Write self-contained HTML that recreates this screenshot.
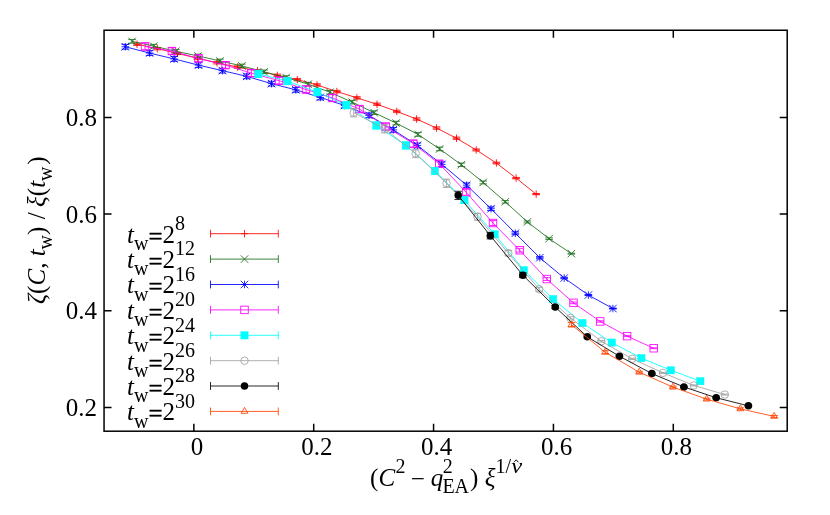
<!DOCTYPE html>
<html><head><meta charset="utf-8"><title>plot</title>
<style>
html,body{margin:0;padding:0;background:#fff;}
body{width:830px;height:515px;overflow:hidden;}
svg{display:block;will-change:transform;}
text{font-family:"Liberation Serif",serif;fill:#000;}
.t{font-size:25px;}
.s{font-size:20px;}
.i{font-style:italic;}
</style></head><body>
<svg width="830" height="515" viewBox="0 0 830 515">
<rect width="830" height="515" fill="#fff"/>
<g id="red"><path d="M137,44.25L157.3,48.65L177.3,53.45L197.4,58.15L217,62.75L237.6,67.05L257.5,70.75L277.3,75.35L297.3,79.65L317,84.95L336.9,91.55L356.9,97.85L377,104.25L396.8,111.45L416.6,119.05L436.5,128.05L456.5,138.25L476.2,149.95L496.4,163.05L516.1,178.15L536.2,194.15" stroke="#ff0000" stroke-width="0.85" fill="none"/><path d="M137,43.05V45.45M133.25,43.05h7.5M133.25,45.45h7.5" stroke="#ff0000" stroke-width="0.85" fill="none"/><path d="M133.25,44.25h7.5M137,40.5v7.5" stroke="#ff0000" stroke-width="0.85" fill="none"/><path d="M157.3,47.45V49.85M153.55,47.45h7.5M153.55,49.85h7.5" stroke="#ff0000" stroke-width="0.85" fill="none"/><path d="M153.55,48.65h7.5M157.3,44.9v7.5" stroke="#ff0000" stroke-width="0.85" fill="none"/><path d="M177.3,52.25V54.65M173.55,52.25h7.5M173.55,54.65h7.5" stroke="#ff0000" stroke-width="0.85" fill="none"/><path d="M173.55,53.45h7.5M177.3,49.7v7.5" stroke="#ff0000" stroke-width="0.85" fill="none"/><path d="M197.4,56.95V59.35M193.65,56.95h7.5M193.65,59.35h7.5" stroke="#ff0000" stroke-width="0.85" fill="none"/><path d="M193.65,58.15h7.5M197.4,54.4v7.5" stroke="#ff0000" stroke-width="0.85" fill="none"/><path d="M217,61.55V63.95M213.25,61.55h7.5M213.25,63.95h7.5" stroke="#ff0000" stroke-width="0.85" fill="none"/><path d="M213.25,62.75h7.5M217,59.0v7.5" stroke="#ff0000" stroke-width="0.85" fill="none"/><path d="M237.6,65.85V68.25M233.85,65.85h7.5M233.85,68.25h7.5" stroke="#ff0000" stroke-width="0.85" fill="none"/><path d="M233.85,67.05h7.5M237.6,63.3v7.5" stroke="#ff0000" stroke-width="0.85" fill="none"/><path d="M257.5,69.55V71.95M253.75,69.55h7.5M253.75,71.95h7.5" stroke="#ff0000" stroke-width="0.85" fill="none"/><path d="M253.75,70.75h7.5M257.5,67.0v7.5" stroke="#ff0000" stroke-width="0.85" fill="none"/><path d="M277.3,74.15V76.55M273.55,74.15h7.5M273.55,76.55h7.5" stroke="#ff0000" stroke-width="0.85" fill="none"/><path d="M273.55,75.35h7.5M277.3,71.6v7.5" stroke="#ff0000" stroke-width="0.85" fill="none"/><path d="M297.3,78.45V80.85M293.55,78.45h7.5M293.55,80.85h7.5" stroke="#ff0000" stroke-width="0.85" fill="none"/><path d="M293.55,79.65h7.5M297.3,75.9v7.5" stroke="#ff0000" stroke-width="0.85" fill="none"/><path d="M317,83.75V86.15M313.25,83.75h7.5M313.25,86.15h7.5" stroke="#ff0000" stroke-width="0.85" fill="none"/><path d="M313.25,84.95h7.5M317,81.2v7.5" stroke="#ff0000" stroke-width="0.85" fill="none"/><path d="M336.9,90.35V92.75M333.15,90.35h7.5M333.15,92.75h7.5" stroke="#ff0000" stroke-width="0.85" fill="none"/><path d="M333.15,91.55h7.5M336.9,87.8v7.5" stroke="#ff0000" stroke-width="0.85" fill="none"/><path d="M356.9,96.65V99.05M353.15,96.65h7.5M353.15,99.05h7.5" stroke="#ff0000" stroke-width="0.85" fill="none"/><path d="M353.15,97.85h7.5M356.9,94.1v7.5" stroke="#ff0000" stroke-width="0.85" fill="none"/><path d="M377,103.05V105.45M373.25,103.05h7.5M373.25,105.45h7.5" stroke="#ff0000" stroke-width="0.85" fill="none"/><path d="M373.25,104.25h7.5M377,100.5v7.5" stroke="#ff0000" stroke-width="0.85" fill="none"/><path d="M396.8,110.25V112.65M393.05,110.25h7.5M393.05,112.65h7.5" stroke="#ff0000" stroke-width="0.85" fill="none"/><path d="M393.05,111.45h7.5M396.8,107.7v7.5" stroke="#ff0000" stroke-width="0.85" fill="none"/><path d="M416.6,117.85V120.25M412.85,117.85h7.5M412.85,120.25h7.5" stroke="#ff0000" stroke-width="0.85" fill="none"/><path d="M412.85,119.05h7.5M416.6,115.3v7.5" stroke="#ff0000" stroke-width="0.85" fill="none"/><path d="M436.5,126.85V129.25M432.75,126.85h7.5M432.75,129.25h7.5" stroke="#ff0000" stroke-width="0.85" fill="none"/><path d="M432.75,128.05h7.5M436.5,124.30000000000001v7.5" stroke="#ff0000" stroke-width="0.85" fill="none"/><path d="M456.5,137.10V139.40M452.75,137.10h7.5M452.75,139.40h7.5" stroke="#ff0000" stroke-width="0.85" fill="none"/><path d="M452.75,138.25h7.5M456.5,134.5v7.5" stroke="#ff0000" stroke-width="0.85" fill="none"/><path d="M476.2,148.94V150.96M472.45,148.94h7.5M472.45,150.96h7.5" stroke="#ff0000" stroke-width="0.85" fill="none"/><path d="M472.45,149.95h7.5M476.2,146.2v7.5" stroke="#ff0000" stroke-width="0.85" fill="none"/><path d="M496.4,162.18V163.92M492.65,162.18h7.5M492.65,163.92h7.5" stroke="#ff0000" stroke-width="0.85" fill="none"/><path d="M492.65,163.05h7.5M496.4,159.3v7.5" stroke="#ff0000" stroke-width="0.85" fill="none"/><path d="M516.1,177.43V178.87M512.35,177.43h7.5M512.35,178.87h7.5" stroke="#ff0000" stroke-width="0.85" fill="none"/><path d="M512.35,178.15h7.5M516.1,174.4v7.5" stroke="#ff0000" stroke-width="0.85" fill="none"/><path d="M536.2,193.57V194.73M532.45,193.57h7.5M532.45,194.73h7.5" stroke="#ff0000" stroke-width="0.85" fill="none"/><path d="M532.45,194.15h7.5M536.2,190.4v7.5" stroke="#ff0000" stroke-width="0.85" fill="none"/></g>
<g id="green"><path d="M132.1,41.35L153.7,46.15L175.8,51.25L198.0,55.95L220.0,60.95L241.9,65.95L264.2,71.85L286.2,77.55L308.2,84.15L329.9,92.25L352.2,102.15L374.1,112.65L396.1,123.05L418,134.45L439.6,148.95L461.4,164.75L483.2,182.45L505.3,201.85L527.4,221.95L549.1,238.65L571.4,253.65" stroke="#1a6e1a" stroke-width="0.85" fill="none"/><path d="M132.1,39.55V43.15M128.35,39.55h7.5M128.35,43.15h7.5" stroke="#1a6e1a" stroke-width="0.85" fill="none"/><path d="M128.35,37.6l7.5,7.5M128.35,45.1l7.5,-7.5" stroke="#1a6e1a" stroke-width="0.85" fill="none"/><path d="M153.7,44.35V47.95M149.95,44.35h7.5M149.95,47.95h7.5" stroke="#1a6e1a" stroke-width="0.85" fill="none"/><path d="M149.95,42.4l7.5,7.5M149.95,49.9l7.5,-7.5" stroke="#1a6e1a" stroke-width="0.85" fill="none"/><path d="M175.8,49.45V53.05M172.05,49.45h7.5M172.05,53.05h7.5" stroke="#1a6e1a" stroke-width="0.85" fill="none"/><path d="M172.05,47.5l7.5,7.5M172.05,55.0l7.5,-7.5" stroke="#1a6e1a" stroke-width="0.85" fill="none"/><path d="M198.0,54.15V57.75M194.25,54.15h7.5M194.25,57.75h7.5" stroke="#1a6e1a" stroke-width="0.85" fill="none"/><path d="M194.25,52.2l7.5,7.5M194.25,59.7l7.5,-7.5" stroke="#1a6e1a" stroke-width="0.85" fill="none"/><path d="M220.0,59.15V62.75M216.25,59.15h7.5M216.25,62.75h7.5" stroke="#1a6e1a" stroke-width="0.85" fill="none"/><path d="M216.25,57.2l7.5,7.5M216.25,64.7l7.5,-7.5" stroke="#1a6e1a" stroke-width="0.85" fill="none"/><path d="M241.9,64.15V67.75M238.15,64.15h7.5M238.15,67.75h7.5" stroke="#1a6e1a" stroke-width="0.85" fill="none"/><path d="M238.15,62.2l7.5,7.5M238.15,69.7l7.5,-7.5" stroke="#1a6e1a" stroke-width="0.85" fill="none"/><path d="M264.2,70.05V73.65M260.45,70.05h7.5M260.45,73.65h7.5" stroke="#1a6e1a" stroke-width="0.85" fill="none"/><path d="M260.45,68.1l7.5,7.5M260.45,75.6l7.5,-7.5" stroke="#1a6e1a" stroke-width="0.85" fill="none"/><path d="M286.2,75.75V79.35M282.45,75.75h7.5M282.45,79.35h7.5" stroke="#1a6e1a" stroke-width="0.85" fill="none"/><path d="M282.45,73.8l7.5,7.5M282.45,81.3l7.5,-7.5" stroke="#1a6e1a" stroke-width="0.85" fill="none"/><path d="M308.2,82.35V85.95M304.45,82.35h7.5M304.45,85.95h7.5" stroke="#1a6e1a" stroke-width="0.85" fill="none"/><path d="M304.45,80.4l7.5,7.5M304.45,87.9l7.5,-7.5" stroke="#1a6e1a" stroke-width="0.85" fill="none"/><path d="M329.9,90.45V94.05M326.15,90.45h7.5M326.15,94.05h7.5" stroke="#1a6e1a" stroke-width="0.85" fill="none"/><path d="M326.15,88.5l7.5,7.5M326.15,96.0l7.5,-7.5" stroke="#1a6e1a" stroke-width="0.85" fill="none"/><path d="M352.2,100.35V103.95M348.45,100.35h7.5M348.45,103.95h7.5" stroke="#1a6e1a" stroke-width="0.85" fill="none"/><path d="M348.45,98.4l7.5,7.5M348.45,105.9l7.5,-7.5" stroke="#1a6e1a" stroke-width="0.85" fill="none"/><path d="M374.1,110.85V114.45M370.35,110.85h7.5M370.35,114.45h7.5" stroke="#1a6e1a" stroke-width="0.85" fill="none"/><path d="M370.35,108.9l7.5,7.5M370.35,116.4l7.5,-7.5" stroke="#1a6e1a" stroke-width="0.85" fill="none"/><path d="M396.1,121.25V124.85M392.35,121.25h7.5M392.35,124.85h7.5" stroke="#1a6e1a" stroke-width="0.85" fill="none"/><path d="M392.35,119.3l7.5,7.5M392.35,126.8l7.5,-7.5" stroke="#1a6e1a" stroke-width="0.85" fill="none"/><path d="M418,132.65V136.25M414.25,132.65h7.5M414.25,136.25h7.5" stroke="#1a6e1a" stroke-width="0.85" fill="none"/><path d="M414.25,130.7l7.5,7.5M414.25,138.2l7.5,-7.5" stroke="#1a6e1a" stroke-width="0.85" fill="none"/><path d="M439.6,147.15V150.75M435.85,147.15h7.5M435.85,150.75h7.5" stroke="#1a6e1a" stroke-width="0.85" fill="none"/><path d="M435.85,145.2l7.5,7.5M435.85,152.7l7.5,-7.5" stroke="#1a6e1a" stroke-width="0.85" fill="none"/><path d="M461.4,163.07V166.43M457.65,163.07h7.5M457.65,166.43h7.5" stroke="#1a6e1a" stroke-width="0.85" fill="none"/><path d="M457.65,161.0l7.5,7.5M457.65,168.5l7.5,-7.5" stroke="#1a6e1a" stroke-width="0.85" fill="none"/><path d="M483.2,181.01V183.89M479.45,181.01h7.5M479.45,183.89h7.5" stroke="#1a6e1a" stroke-width="0.85" fill="none"/><path d="M479.45,178.7l7.5,7.5M479.45,186.2l7.5,-7.5" stroke="#1a6e1a" stroke-width="0.85" fill="none"/><path d="M505.3,200.65V203.05M501.55,200.65h7.5M501.55,203.05h7.5" stroke="#1a6e1a" stroke-width="0.85" fill="none"/><path d="M501.55,198.1l7.5,7.5M501.55,205.6l7.5,-7.5" stroke="#1a6e1a" stroke-width="0.85" fill="none"/><path d="M527.4,220.99V222.91M523.65,220.99h7.5M523.65,222.91h7.5" stroke="#1a6e1a" stroke-width="0.85" fill="none"/><path d="M523.65,218.2l7.5,7.5M523.65,225.7l7.5,-7.5" stroke="#1a6e1a" stroke-width="0.85" fill="none"/><path d="M549.1,237.92V239.38M545.35,237.92h7.5M545.35,239.38h7.5" stroke="#1a6e1a" stroke-width="0.85" fill="none"/><path d="M545.35,234.9l7.5,7.5M545.35,242.4l7.5,-7.5" stroke="#1a6e1a" stroke-width="0.85" fill="none"/><path d="M571.4,253.16V254.14M567.65,253.16h7.5M567.65,254.14h7.5" stroke="#1a6e1a" stroke-width="0.85" fill="none"/><path d="M567.65,249.9l7.5,7.5M567.65,257.4l7.5,-7.5" stroke="#1a6e1a" stroke-width="0.85" fill="none"/></g>
<g id="blue"><path d="M125.3,46.75L149.6,53.05L174.1,58.95L198.5,65.15L222.4,70.65L246.7,76.35L271.5,83.65L295.8,89.85L320.3,97.45L344.5,105.45L369,115.35L393.3,129.85L417.4,145.45L441.8,164.35L466.6,185.15L491,208.75L515.3,233.25L539.8,257.75L564.2,278.05L588.4,295.05L612.9,308.55" stroke="#0000ff" stroke-width="0.85" fill="none"/><path d="M125.3,44.35V49.15M121.55,44.35h7.5M121.55,49.15h7.5" stroke="#0000ff" stroke-width="0.85" fill="none"/><path d="M121.55,46.75h7.5M125.3,43.0v7.5M121.55,43.0l7.5,7.5M121.55,50.5l7.5,-7.5" stroke="#0000ff" stroke-width="0.85" fill="none"/><path d="M149.6,50.65V55.45M145.85,50.65h7.5M145.85,55.45h7.5" stroke="#0000ff" stroke-width="0.85" fill="none"/><path d="M145.85,53.05h7.5M149.6,49.3v7.5M145.85,49.3l7.5,7.5M145.85,56.8l7.5,-7.5" stroke="#0000ff" stroke-width="0.85" fill="none"/><path d="M174.1,56.55V61.35M170.35,56.55h7.5M170.35,61.35h7.5" stroke="#0000ff" stroke-width="0.85" fill="none"/><path d="M170.35,58.95h7.5M174.1,55.2v7.5M170.35,55.2l7.5,7.5M170.35,62.7l7.5,-7.5" stroke="#0000ff" stroke-width="0.85" fill="none"/><path d="M198.5,62.75V67.55M194.75,62.75h7.5M194.75,67.55h7.5" stroke="#0000ff" stroke-width="0.85" fill="none"/><path d="M194.75,65.15h7.5M198.5,61.400000000000006v7.5M194.75,61.400000000000006l7.5,7.5M194.75,68.9l7.5,-7.5" stroke="#0000ff" stroke-width="0.85" fill="none"/><path d="M222.4,68.25V73.05M218.65,68.25h7.5M218.65,73.05h7.5" stroke="#0000ff" stroke-width="0.85" fill="none"/><path d="M218.65,70.65h7.5M222.4,66.9v7.5M218.65,66.9l7.5,7.5M218.65,74.4l7.5,-7.5" stroke="#0000ff" stroke-width="0.85" fill="none"/><path d="M246.7,73.95V78.75M242.95,73.95h7.5M242.95,78.75h7.5" stroke="#0000ff" stroke-width="0.85" fill="none"/><path d="M242.95,76.35h7.5M246.7,72.6v7.5M242.95,72.6l7.5,7.5M242.95,80.1l7.5,-7.5" stroke="#0000ff" stroke-width="0.85" fill="none"/><path d="M271.5,81.25V86.05M267.75,81.25h7.5M267.75,86.05h7.5" stroke="#0000ff" stroke-width="0.85" fill="none"/><path d="M267.75,83.65h7.5M271.5,79.9v7.5M267.75,79.9l7.5,7.5M267.75,87.4l7.5,-7.5" stroke="#0000ff" stroke-width="0.85" fill="none"/><path d="M295.8,87.45V92.25M292.05,87.45h7.5M292.05,92.25h7.5" stroke="#0000ff" stroke-width="0.85" fill="none"/><path d="M292.05,89.85h7.5M295.8,86.1v7.5M292.05,86.1l7.5,7.5M292.05,93.6l7.5,-7.5" stroke="#0000ff" stroke-width="0.85" fill="none"/><path d="M320.3,95.05V99.85M316.55,95.05h7.5M316.55,99.85h7.5" stroke="#0000ff" stroke-width="0.85" fill="none"/><path d="M316.55,97.45h7.5M320.3,93.7v7.5M316.55,93.7l7.5,7.5M316.55,101.2l7.5,-7.5" stroke="#0000ff" stroke-width="0.85" fill="none"/><path d="M344.5,103.05V107.85M340.75,103.05h7.5M340.75,107.85h7.5" stroke="#0000ff" stroke-width="0.85" fill="none"/><path d="M340.75,105.45h7.5M344.5,101.7v7.5M340.75,101.7l7.5,7.5M340.75,109.2l7.5,-7.5" stroke="#0000ff" stroke-width="0.85" fill="none"/><path d="M369,112.95V117.75M365.25,112.95h7.5M365.25,117.75h7.5" stroke="#0000ff" stroke-width="0.85" fill="none"/><path d="M365.25,115.35h7.5M369,111.6v7.5M365.25,111.6l7.5,7.5M365.25,119.1l7.5,-7.5" stroke="#0000ff" stroke-width="0.85" fill="none"/><path d="M393.3,127.45V132.25M389.55,127.45h7.5M389.55,132.25h7.5" stroke="#0000ff" stroke-width="0.85" fill="none"/><path d="M389.55,129.85h7.5M393.3,126.1v7.5M389.55,126.1l7.5,7.5M389.55,133.6l7.5,-7.5" stroke="#0000ff" stroke-width="0.85" fill="none"/><path d="M417.4,143.05V147.85M413.65,143.05h7.5M413.65,147.85h7.5" stroke="#0000ff" stroke-width="0.85" fill="none"/><path d="M413.65,145.45h7.5M417.4,141.7v7.5M413.65,141.7l7.5,7.5M413.65,149.2l7.5,-7.5" stroke="#0000ff" stroke-width="0.85" fill="none"/><path d="M441.8,161.95V166.75M438.05,161.95h7.5M438.05,166.75h7.5" stroke="#0000ff" stroke-width="0.85" fill="none"/><path d="M438.05,164.35h7.5M441.8,160.6v7.5M438.05,160.6l7.5,7.5M438.05,168.1l7.5,-7.5" stroke="#0000ff" stroke-width="0.85" fill="none"/><path d="M466.6,182.99V187.31M462.85,182.99h7.5M462.85,187.31h7.5" stroke="#0000ff" stroke-width="0.85" fill="none"/><path d="M462.85,185.15h7.5M466.6,181.4v7.5M462.85,181.4l7.5,7.5M462.85,188.9l7.5,-7.5" stroke="#0000ff" stroke-width="0.85" fill="none"/><path d="M491,206.94V210.56M487.25,206.94h7.5M487.25,210.56h7.5" stroke="#0000ff" stroke-width="0.85" fill="none"/><path d="M487.25,208.75h7.5M491,205.0v7.5M487.25,205.0l7.5,7.5M487.25,212.5l7.5,-7.5" stroke="#0000ff" stroke-width="0.85" fill="none"/><path d="M515.3,231.79V234.71M511.54999999999995,231.79h7.5M511.54999999999995,234.71h7.5" stroke="#0000ff" stroke-width="0.85" fill="none"/><path d="M511.54999999999995,233.25h7.5M515.3,229.5v7.5M511.54999999999995,229.5l7.5,7.5M511.54999999999995,237.0l7.5,-7.5" stroke="#0000ff" stroke-width="0.85" fill="none"/><path d="M539.8,256.64V258.86M536.05,256.64h7.5M536.05,258.86h7.5" stroke="#0000ff" stroke-width="0.85" fill="none"/><path d="M536.05,257.75h7.5M539.8,254.0v7.5M536.05,254.0l7.5,7.5M536.05,261.5l7.5,-7.5" stroke="#0000ff" stroke-width="0.85" fill="none"/><path d="M564.2,277.29V278.81M560.45,277.29h7.5M560.45,278.81h7.5" stroke="#0000ff" stroke-width="0.85" fill="none"/><path d="M560.45,278.05h7.5M564.2,274.3v7.5M560.45,274.3l7.5,7.5M560.45,281.8l7.5,-7.5" stroke="#0000ff" stroke-width="0.85" fill="none"/><path d="M588.4,294.51V295.59M584.65,294.51h7.5M584.65,295.59h7.5" stroke="#0000ff" stroke-width="0.85" fill="none"/><path d="M584.65,295.05h7.5M588.4,291.3v7.5M584.65,291.3l7.5,7.5M584.65,298.8l7.5,-7.5" stroke="#0000ff" stroke-width="0.85" fill="none"/><path d="M612.9,308.13V308.97M609.15,308.13h7.5M609.15,308.97h7.5" stroke="#0000ff" stroke-width="0.85" fill="none"/><path d="M609.15,308.55h7.5M612.9,304.8v7.5M609.15,304.8l7.5,7.5M609.15,312.3l7.5,-7.5" stroke="#0000ff" stroke-width="0.85" fill="none"/></g>
<g id="magenta"><path d="M145,46.45L171.9,51.05L198.5,58.45L225.5,65.15L251.4,73.15L279.1,80.65L306,89.45L332.4,97.95L359.5,109.05L385.7,126.55L413.3,143.65L439.3,163.75L466.3,192.35L493,223.05L519.7,250.25L546.8,279.05L573.5,302.85L600.2,321.45L627.1,336.15L653.7,348.25" stroke="#ff00ff" stroke-width="0.85" fill="none"/><path d="M145,43.15V49.75M141.25,43.15h7.5M141.25,49.75h7.5" stroke="#ff00ff" stroke-width="0.85" fill="none"/><rect x="141.25" y="42.7" width="7.5" height="7.5" stroke="#ff00ff" stroke-width="0.85" fill="none"/><path d="M171.9,47.75V54.35M168.15,47.75h7.5M168.15,54.35h7.5" stroke="#ff00ff" stroke-width="0.85" fill="none"/><rect x="168.15" y="47.3" width="7.5" height="7.5" stroke="#ff00ff" stroke-width="0.85" fill="none"/><path d="M198.5,55.15V61.75M194.75,55.15h7.5M194.75,61.75h7.5" stroke="#ff00ff" stroke-width="0.85" fill="none"/><rect x="194.75" y="54.7" width="7.5" height="7.5" stroke="#ff00ff" stroke-width="0.85" fill="none"/><path d="M225.5,61.85V68.45M221.75,61.85h7.5M221.75,68.45h7.5" stroke="#ff00ff" stroke-width="0.85" fill="none"/><rect x="221.75" y="61.400000000000006" width="7.5" height="7.5" stroke="#ff00ff" stroke-width="0.85" fill="none"/><path d="M251.4,69.85V76.45M247.65,69.85h7.5M247.65,76.45h7.5" stroke="#ff00ff" stroke-width="0.85" fill="none"/><rect x="247.65" y="69.4" width="7.5" height="7.5" stroke="#ff00ff" stroke-width="0.85" fill="none"/><path d="M279.1,77.35V83.95M275.35,77.35h7.5M275.35,83.95h7.5" stroke="#ff00ff" stroke-width="0.85" fill="none"/><rect x="275.35" y="76.9" width="7.5" height="7.5" stroke="#ff00ff" stroke-width="0.85" fill="none"/><path d="M306,86.15V92.75M302.25,86.15h7.5M302.25,92.75h7.5" stroke="#ff00ff" stroke-width="0.85" fill="none"/><rect x="302.25" y="85.7" width="7.5" height="7.5" stroke="#ff00ff" stroke-width="0.85" fill="none"/><path d="M332.4,94.65V101.25M328.65,94.65h7.5M328.65,101.25h7.5" stroke="#ff00ff" stroke-width="0.85" fill="none"/><rect x="328.65" y="94.2" width="7.5" height="7.5" stroke="#ff00ff" stroke-width="0.85" fill="none"/><path d="M359.5,105.75V112.35M355.75,105.75h7.5M355.75,112.35h7.5" stroke="#ff00ff" stroke-width="0.85" fill="none"/><rect x="355.75" y="105.3" width="7.5" height="7.5" stroke="#ff00ff" stroke-width="0.85" fill="none"/><path d="M385.7,123.25V129.85M381.95,123.25h7.5M381.95,129.85h7.5" stroke="#ff00ff" stroke-width="0.85" fill="none"/><rect x="381.95" y="122.8" width="7.5" height="7.5" stroke="#ff00ff" stroke-width="0.85" fill="none"/><path d="M413.3,140.35V146.95M409.55,140.35h7.5M409.55,146.95h7.5" stroke="#ff00ff" stroke-width="0.85" fill="none"/><rect x="409.55" y="139.9" width="7.5" height="7.5" stroke="#ff00ff" stroke-width="0.85" fill="none"/><path d="M439.3,160.45V167.05M435.55,160.45h7.5M435.55,167.05h7.5" stroke="#ff00ff" stroke-width="0.85" fill="none"/><rect x="435.55" y="160.0" width="7.5" height="7.5" stroke="#ff00ff" stroke-width="0.85" fill="none"/><path d="M466.3,189.37V195.33M462.55,189.37h7.5M462.55,195.33h7.5" stroke="#ff00ff" stroke-width="0.85" fill="none"/><rect x="462.55" y="188.6" width="7.5" height="7.5" stroke="#ff00ff" stroke-width="0.85" fill="none"/><path d="M493,220.60V225.50M489.25,220.60h7.5M489.25,225.50h7.5" stroke="#ff00ff" stroke-width="0.85" fill="none"/><rect x="489.25" y="219.3" width="7.5" height="7.5" stroke="#ff00ff" stroke-width="0.85" fill="none"/><path d="M519.7,248.33V252.17M515.95,248.33h7.5M515.95,252.17h7.5" stroke="#ff00ff" stroke-width="0.85" fill="none"/><rect x="515.95" y="246.5" width="7.5" height="7.5" stroke="#ff00ff" stroke-width="0.85" fill="none"/><path d="M546.8,277.67V280.43M543.05,277.67h7.5M543.05,280.43h7.5" stroke="#ff00ff" stroke-width="0.85" fill="none"/><rect x="543.05" y="275.3" width="7.5" height="7.5" stroke="#ff00ff" stroke-width="0.85" fill="none"/><path d="M573.5,302.00V303.70M569.75,302.00h7.5M569.75,303.70h7.5" stroke="#ff00ff" stroke-width="0.85" fill="none"/><rect x="569.75" y="299.1" width="7.5" height="7.5" stroke="#ff00ff" stroke-width="0.85" fill="none"/><path d="M600.2,320.79V322.11M596.45,320.79h7.5M596.45,322.11h7.5" stroke="#ff00ff" stroke-width="0.85" fill="none"/><rect x="596.45" y="317.7" width="7.5" height="7.5" stroke="#ff00ff" stroke-width="0.85" fill="none"/><path d="M627.1,335.67V336.63M623.35,335.67h7.5M623.35,336.63h7.5" stroke="#ff00ff" stroke-width="0.85" fill="none"/><rect x="623.35" y="332.4" width="7.5" height="7.5" stroke="#ff00ff" stroke-width="0.85" fill="none"/><path d="M653.7,347.85V348.65M649.95,347.85h7.5M649.95,348.65h7.5" stroke="#ff00ff" stroke-width="0.85" fill="none"/><rect x="649.95" y="344.5" width="7.5" height="7.5" stroke="#ff00ff" stroke-width="0.85" fill="none"/></g>
<g id="cyan"><path d="M258.4,73.85L287.5,81.15L317.3,92.15L346.4,105.15L376.3,125.45L405.8,145.45L434.9,171.05L464.4,200.15L494.7,234.25L523.8,270.15L553.1,299.15L582.4,323.05L611.8,342.65L641.3,358.05L670.8,370.25L700.3,381.15" stroke="#00ffff" stroke-width="0.85" fill="none"/><path d="M258.4,70.35V77.35M254.64999999999998,70.35h7.5M254.64999999999998,77.35h7.5" stroke="#00ffff" stroke-width="0.85" fill="none"/><rect x="254.64999999999998" y="70.1" width="7.5" height="7.5" fill="#00ffff" stroke="#00ffff" stroke-width="0.3"/><path d="M287.5,77.65V84.65M283.75,77.65h7.5M283.75,84.65h7.5" stroke="#00ffff" stroke-width="0.85" fill="none"/><rect x="283.75" y="77.4" width="7.5" height="7.5" fill="#00ffff" stroke="#00ffff" stroke-width="0.3"/><path d="M317.3,88.65V95.65M313.55,88.65h7.5M313.55,95.65h7.5" stroke="#00ffff" stroke-width="0.85" fill="none"/><rect x="313.55" y="88.4" width="7.5" height="7.5" fill="#00ffff" stroke="#00ffff" stroke-width="0.3"/><path d="M346.4,101.65V108.65M342.65,101.65h7.5M342.65,108.65h7.5" stroke="#00ffff" stroke-width="0.85" fill="none"/><rect x="342.65" y="101.4" width="7.5" height="7.5" fill="#00ffff" stroke="#00ffff" stroke-width="0.3"/><path d="M376.3,121.95V128.95M372.55,121.95h7.5M372.55,128.95h7.5" stroke="#00ffff" stroke-width="0.85" fill="none"/><rect x="372.55" y="121.7" width="7.5" height="7.5" fill="#00ffff" stroke="#00ffff" stroke-width="0.3"/><path d="M405.8,141.95V148.95M402.05,141.95h7.5M402.05,148.95h7.5" stroke="#00ffff" stroke-width="0.85" fill="none"/><rect x="402.05" y="141.7" width="7.5" height="7.5" fill="#00ffff" stroke="#00ffff" stroke-width="0.3"/><path d="M434.9,167.55V174.55M431.15,167.55h7.5M431.15,174.55h7.5" stroke="#00ffff" stroke-width="0.85" fill="none"/><rect x="431.15" y="167.3" width="7.5" height="7.5" fill="#00ffff" stroke="#00ffff" stroke-width="0.3"/><path d="M464.4,196.95V203.35M460.65,196.95h7.5M460.65,203.35h7.5" stroke="#00ffff" stroke-width="0.85" fill="none"/><rect x="460.65" y="196.4" width="7.5" height="7.5" fill="#00ffff" stroke="#00ffff" stroke-width="0.3"/><path d="M494.7,231.69V236.81M490.95,231.69h7.5M490.95,236.81h7.5" stroke="#00ffff" stroke-width="0.85" fill="none"/><rect x="490.95" y="230.5" width="7.5" height="7.5" fill="#00ffff" stroke="#00ffff" stroke-width="0.3"/><path d="M523.8,268.20V272.10M520.05,268.20h7.5M520.05,272.10h7.5" stroke="#00ffff" stroke-width="0.85" fill="none"/><rect x="520.05" y="266.4" width="7.5" height="7.5" fill="#00ffff" stroke="#00ffff" stroke-width="0.3"/><path d="M553.1,297.82V300.48M549.35,297.82h7.5M549.35,300.48h7.5" stroke="#00ffff" stroke-width="0.85" fill="none"/><rect x="549.35" y="295.4" width="7.5" height="7.5" fill="#00ffff" stroke="#00ffff" stroke-width="0.3"/><path d="M582.4,322.23V323.87M578.65,322.23h7.5M578.65,323.87h7.5" stroke="#00ffff" stroke-width="0.85" fill="none"/><rect x="578.65" y="319.3" width="7.5" height="7.5" fill="#00ffff" stroke="#00ffff" stroke-width="0.3"/><path d="M611.8,342.03V343.27M608.05,342.03h7.5M608.05,343.27h7.5" stroke="#00ffff" stroke-width="0.85" fill="none"/><rect x="608.05" y="338.9" width="7.5" height="7.5" fill="#00ffff" stroke="#00ffff" stroke-width="0.3"/><path d="M641.3,357.63V358.47M637.55,357.63h7.5M637.55,358.47h7.5" stroke="#00ffff" stroke-width="0.85" fill="none"/><rect x="637.55" y="354.3" width="7.5" height="7.5" fill="#00ffff" stroke="#00ffff" stroke-width="0.3"/><path d="M670.8,369.83V370.67M667.05,369.83h7.5M667.05,370.67h7.5" stroke="#00ffff" stroke-width="0.85" fill="none"/><rect x="667.05" y="366.5" width="7.5" height="7.5" fill="#00ffff" stroke="#00ffff" stroke-width="0.3"/><path d="M700.3,380.73V381.57M696.55,380.73h7.5M696.55,381.57h7.5" stroke="#00ffff" stroke-width="0.85" fill="none"/><rect x="696.55" y="377.4" width="7.5" height="7.5" fill="#00ffff" stroke="#00ffff" stroke-width="0.3"/></g>
<g id="grey"><path d="M353.7,112.65L384.6,128.75L415.7,153.45L446.5,183.25L477.5,216.75L508.3,253.15L539.2,289.25L570.4,317.95L601.3,341.25L632.2,358.85L663,372.85L693.8,385.45L724.8,394.55" stroke="#a0a0a0" stroke-width="0.85" fill="none"/><path d="M353.7,108.45V116.85M349.95,108.45h7.5M349.95,116.85h7.5" stroke="#a0a0a0" stroke-width="0.85" fill="none"/><circle cx="353.7" cy="112.65" r="3.75" stroke="#a0a0a0" stroke-width="0.85" fill="none"/><path d="M384.6,124.55V132.95M380.85,124.55h7.5M380.85,132.95h7.5" stroke="#a0a0a0" stroke-width="0.85" fill="none"/><circle cx="384.6" cy="128.75" r="3.75" stroke="#a0a0a0" stroke-width="0.85" fill="none"/><path d="M415.7,149.25V157.65M411.95,149.25h7.5M411.95,157.65h7.5" stroke="#a0a0a0" stroke-width="0.85" fill="none"/><circle cx="415.7" cy="153.45" r="3.75" stroke="#a0a0a0" stroke-width="0.85" fill="none"/><path d="M446.5,179.05V187.45M442.75,179.05h7.5M442.75,187.45h7.5" stroke="#a0a0a0" stroke-width="0.85" fill="none"/><circle cx="446.5" cy="183.25" r="3.75" stroke="#a0a0a0" stroke-width="0.85" fill="none"/><path d="M477.5,213.24V220.26M473.75,213.24h7.5M473.75,220.26h7.5" stroke="#a0a0a0" stroke-width="0.85" fill="none"/><circle cx="477.5" cy="216.75" r="3.75" stroke="#a0a0a0" stroke-width="0.85" fill="none"/><path d="M508.3,250.42V255.88M504.55,250.42h7.5M504.55,255.88h7.5" stroke="#a0a0a0" stroke-width="0.85" fill="none"/><circle cx="508.3" cy="253.15" r="3.75" stroke="#a0a0a0" stroke-width="0.85" fill="none"/><path d="M539.2,287.30V291.20M535.45,287.30h7.5M535.45,291.20h7.5" stroke="#a0a0a0" stroke-width="0.85" fill="none"/><circle cx="539.2" cy="289.25" r="3.75" stroke="#a0a0a0" stroke-width="0.85" fill="none"/><path d="M570.4,316.78V319.12M566.65,316.78h7.5M566.65,319.12h7.5" stroke="#a0a0a0" stroke-width="0.85" fill="none"/><circle cx="570.4" cy="317.95" r="3.75" stroke="#a0a0a0" stroke-width="0.85" fill="none"/><path d="M601.3,340.42V342.08M597.55,340.42h7.5M597.55,342.08h7.5" stroke="#a0a0a0" stroke-width="0.85" fill="none"/><circle cx="601.3" cy="341.25" r="3.75" stroke="#a0a0a0" stroke-width="0.85" fill="none"/><path d="M632.2,358.28V359.42M628.45,358.28h7.5M628.45,359.42h7.5" stroke="#a0a0a0" stroke-width="0.85" fill="none"/><circle cx="632.2" cy="358.85" r="3.75" stroke="#a0a0a0" stroke-width="0.85" fill="none"/><path d="M663,372.35V373.35M659.25,372.35h7.5M659.25,373.35h7.5" stroke="#a0a0a0" stroke-width="0.85" fill="none"/><circle cx="663" cy="372.85" r="3.75" stroke="#a0a0a0" stroke-width="0.85" fill="none"/><path d="M693.8,384.95V385.95M690.05,384.95h7.5M690.05,385.95h7.5" stroke="#a0a0a0" stroke-width="0.85" fill="none"/><circle cx="693.8" cy="385.45" r="3.75" stroke="#a0a0a0" stroke-width="0.85" fill="none"/><path d="M724.8,394.05V395.05M721.05,394.05h7.5M721.05,395.05h7.5" stroke="#a0a0a0" stroke-width="0.85" fill="none"/><circle cx="724.8" cy="394.55" r="3.75" stroke="#a0a0a0" stroke-width="0.85" fill="none"/></g>
<g id="black"><path d="M458.2,195.35L490.3,235.65L522.8,275.15L555.2,307.05L587.3,336.85L619.4,356.25L651.8,373.55L683.9,386.95L716.2,397.75L748.4,405.85" stroke="#000000" stroke-width="0.85" fill="none"/><path d="M458.2,191.26V199.44M454.45,191.26h7.5M454.45,199.44h7.5" stroke="#000000" stroke-width="0.85" fill="none"/><circle cx="458.2" cy="195.35" r="3.75" fill="#000000"/><path d="M490.3,232.39V238.91M486.55,232.39h7.5M486.55,238.91h7.5" stroke="#000000" stroke-width="0.85" fill="none"/><circle cx="490.3" cy="235.65" r="3.75" fill="#000000"/><path d="M522.8,272.73V277.57M519.05,272.73h7.5M519.05,277.57h7.5" stroke="#000000" stroke-width="0.85" fill="none"/><circle cx="522.8" cy="275.15" r="3.75" fill="#000000"/><path d="M555.2,305.46V308.64M551.45,305.46h7.5M551.45,308.64h7.5" stroke="#000000" stroke-width="0.85" fill="none"/><circle cx="555.2" cy="307.05" r="3.75" fill="#000000"/><path d="M587.3,335.88V337.82M583.55,335.88h7.5M583.55,337.82h7.5" stroke="#000000" stroke-width="0.85" fill="none"/><circle cx="587.3" cy="336.85" r="3.75" fill="#000000"/><path d="M619.4,355.56V356.94M615.65,355.56h7.5M615.65,356.94h7.5" stroke="#000000" stroke-width="0.85" fill="none"/><circle cx="619.4" cy="356.25" r="3.75" fill="#000000"/><path d="M651.8,373.03V374.07M648.05,373.03h7.5M648.05,374.07h7.5" stroke="#000000" stroke-width="0.85" fill="none"/><circle cx="651.8" cy="373.55" r="3.75" fill="#000000"/><path d="M683.9,386.43V387.47M680.15,386.43h7.5M680.15,387.47h7.5" stroke="#000000" stroke-width="0.85" fill="none"/><circle cx="683.9" cy="386.95" r="3.75" fill="#000000"/><path d="M716.2,397.23V398.27M712.45,397.23h7.5M712.45,398.27h7.5" stroke="#000000" stroke-width="0.85" fill="none"/><circle cx="716.2" cy="397.75" r="3.75" fill="#000000"/><path d="M748.4,405.33V406.37M744.65,405.33h7.5M744.65,406.37h7.5" stroke="#000000" stroke-width="0.85" fill="none"/><circle cx="748.4" cy="405.85" r="3.75" fill="#000000"/></g>
<g id="orange"><path d="M571.5,324.75L605.2,352.25L639.3,372.25L673,387.15L706.7,399.15L740.4,408.85L774.2,416.45" stroke="#ff4500" stroke-width="0.85" fill="none"/><path d="M571.5,322.58V326.92M567.75,322.58h7.5M567.75,326.92h7.5" stroke="#ff4500" stroke-width="0.85" fill="none"/><path d="M571.5,320.75L568.1,326.65L574.9,326.65Z" stroke="#ff4500" stroke-width="0.85" fill="none"/><path d="M605.2,350.73V353.77M601.45,350.73h7.5M601.45,353.77h7.5" stroke="#ff4500" stroke-width="0.85" fill="none"/><path d="M605.2,348.25L601.8000000000001,354.15L608.6,354.15Z" stroke="#ff4500" stroke-width="0.85" fill="none"/><path d="M639.3,371.28V373.22M635.55,371.28h7.5M635.55,373.22h7.5" stroke="#ff4500" stroke-width="0.85" fill="none"/><path d="M639.3,368.25L635.9,374.15L642.6999999999999,374.15Z" stroke="#ff4500" stroke-width="0.85" fill="none"/><path d="M673,386.19V388.11M669.25,386.19h7.5M669.25,388.11h7.5" stroke="#ff4500" stroke-width="0.85" fill="none"/><path d="M673,383.15L669.6,389.05L676.4,389.05Z" stroke="#ff4500" stroke-width="0.85" fill="none"/><path d="M706.7,398.19V400.11M702.95,398.19h7.5M702.95,400.11h7.5" stroke="#ff4500" stroke-width="0.85" fill="none"/><path d="M706.7,395.15L703.3000000000001,401.05L710.1,401.05Z" stroke="#ff4500" stroke-width="0.85" fill="none"/><path d="M740.4,407.89V409.81M736.65,407.89h7.5M736.65,409.81h7.5" stroke="#ff4500" stroke-width="0.85" fill="none"/><path d="M740.4,404.85L737.0,410.75L743.8,410.75Z" stroke="#ff4500" stroke-width="0.85" fill="none"/><path d="M774.2,415.49V417.41M770.45,415.49h7.5M770.45,417.41h7.5" stroke="#ff4500" stroke-width="0.85" fill="none"/><path d="M774.2,412.45L770.8000000000001,418.35L777.6,418.35Z" stroke="#ff4500" stroke-width="0.85" fill="none"/></g>
<g><path d="M210.5,233.7H278.3M210.5,229.79999999999998v7.8M278.3,229.79999999999998v7.8" stroke="#ff0000" stroke-width="0.85" fill="none"/><path d="M240.75,233.7h7.5M244.5,229.95v7.5" stroke="#ff0000" stroke-width="0.85" fill="none"/><text class="t" x="127" y="242.6"><tspan class="i">t</tspan><tspan class="s" dy="7.4">w</tspan><tspan dy="-5.4" stroke="#000" stroke-width="0.35">=</tspan><tspan dy="-2">2</tspan><tspan class="s" dy="-12.7">8</tspan></text></g>
<g><path d="M210.5,259.1H278.3M210.5,255.20000000000002v7.8M278.3,255.20000000000002v7.8" stroke="#1a6e1a" stroke-width="0.85" fill="none"/><path d="M240.75,255.35000000000002l7.5,7.5M240.75,262.85l7.5,-7.5" stroke="#1a6e1a" stroke-width="0.85" fill="none"/><text class="t" x="127" y="268.0"><tspan class="i">t</tspan><tspan class="s" dy="7.4">w</tspan><tspan dy="-5.4" stroke="#000" stroke-width="0.35">=</tspan><tspan dy="-2">2</tspan><tspan class="s" dy="-12.7">12</tspan></text></g>
<g><path d="M210.5,284.5H278.3M210.5,280.6v7.8M278.3,280.6v7.8" stroke="#0000ff" stroke-width="0.85" fill="none"/><path d="M240.75,284.5h7.5M244.5,280.75v7.5M240.75,280.75l7.5,7.5M240.75,288.25l7.5,-7.5" stroke="#0000ff" stroke-width="0.85" fill="none"/><text class="t" x="127" y="293.4"><tspan class="i">t</tspan><tspan class="s" dy="7.4">w</tspan><tspan dy="-5.4" stroke="#000" stroke-width="0.35">=</tspan><tspan dy="-2">2</tspan><tspan class="s" dy="-12.7">16</tspan></text></g>
<g><path d="M210.5,309.9H278.3M210.5,306.0v7.8M278.3,306.0v7.8" stroke="#ff00ff" stroke-width="0.85" fill="none"/><rect x="240.75" y="306.15" width="7.5" height="7.5" stroke="#ff00ff" stroke-width="0.85" fill="none"/><text class="t" x="127" y="318.8"><tspan class="i">t</tspan><tspan class="s" dy="7.4">w</tspan><tspan dy="-5.4" stroke="#000" stroke-width="0.35">=</tspan><tspan dy="-2">2</tspan><tspan class="s" dy="-12.7">20</tspan></text></g>
<g><path d="M210.5,335.3H278.3M210.5,331.40000000000003v7.8M278.3,331.40000000000003v7.8" stroke="#00ffff" stroke-width="0.85" fill="none"/><rect x="240.75" y="331.55" width="7.5" height="7.5" fill="#00ffff" stroke="#00ffff" stroke-width="0.3"/><text class="t" x="127" y="344.2"><tspan class="i">t</tspan><tspan class="s" dy="7.4">w</tspan><tspan dy="-5.4" stroke="#000" stroke-width="0.35">=</tspan><tspan dy="-2">2</tspan><tspan class="s" dy="-12.7">24</tspan></text></g>
<g><path d="M210.5,360.7H278.3M210.5,356.8v7.8M278.3,356.8v7.8" stroke="#a0a0a0" stroke-width="0.85" fill="none"/><circle cx="244.5" cy="360.7" r="3.75" stroke="#a0a0a0" stroke-width="0.85" fill="none"/><text class="t" x="127" y="369.6"><tspan class="i">t</tspan><tspan class="s" dy="7.4">w</tspan><tspan dy="-5.4" stroke="#000" stroke-width="0.35">=</tspan><tspan dy="-2">2</tspan><tspan class="s" dy="-12.7">26</tspan></text></g>
<g><path d="M210.5,386.0H278.3M210.5,382.1v7.8M278.3,382.1v7.8" stroke="#000000" stroke-width="0.85" fill="none"/><circle cx="244.5" cy="386.0" r="3.75" fill="#000000"/><text class="t" x="127" y="394.9"><tspan class="i">t</tspan><tspan class="s" dy="7.4">w</tspan><tspan dy="-5.4" stroke="#000" stroke-width="0.35">=</tspan><tspan dy="-2">2</tspan><tspan class="s" dy="-12.7">28</tspan></text></g>
<g><path d="M210.5,411.4H278.3M210.5,407.5v7.8M278.3,407.5v7.8" stroke="#ff4500" stroke-width="0.85" fill="none"/><path d="M244.5,407.40L241.1,413.30L247.9,413.30Z" stroke="#ff4500" stroke-width="0.85" fill="none"/><text class="t" x="127" y="420.3"><tspan class="i">t</tspan><tspan class="s" dy="7.4">w</tspan><tspan dy="-5.4" stroke="#000" stroke-width="0.35">=</tspan><tspan dy="-2">2</tspan><tspan class="s" dy="-12.7">30</tspan></text></g>
<g stroke="#000" stroke-width="1.5" fill="none"><rect x="104.05" y="30.25" width="683.1500000000001" height="400.95"/><path d="M193.85,431.2v-7.5M193.85,30.25v7.5M313.71,431.2v-7.5M313.71,30.25v7.5M433.57,431.2v-7.5M433.57,30.25v7.5M553.43,431.2v-7.5M553.43,30.25v7.5M673.29,431.2v-7.5M673.29,30.25v7.5M104.05,407.4h7.5M787.2,407.4h-7.5M104.05,310.73h7.5M787.2,310.73h-7.5M104.05,214.07h7.5M787.2,214.07h-7.5M104.05,117.4h7.5M787.2,117.4h-7.5"/></g>
<text class="t" x="196.95" y="455" text-anchor="middle">0</text><text class="t" x="316.81" y="455" text-anchor="middle">0.2</text><text class="t" x="436.67" y="455" text-anchor="middle">0.4</text><text class="t" x="556.53" y="455" text-anchor="middle">0.6</text><text class="t" x="676.39" y="455" text-anchor="middle">0.8</text><text class="t" x="97" y="416.1" text-anchor="end">0.2</text><text class="t" x="97" y="319.4" text-anchor="end">0.4</text><text class="t" x="97" y="222.8" text-anchor="end">0.6</text><text class="t" x="97" y="126.1" text-anchor="end">0.8</text>
<text class="t" x="370.1" y="485.5">(<tspan class="i">C</tspan><tspan class="s" dy="-13" dx="0.3">2</tspan><tspan dy="14.9" dx="5.25">−</tspan><tspan class="i" dy="-1.9" dx="5.95">q</tspan><tspan class="s" dy="-13" dx="-0.4">2</tspan><tspan class="s" x="442.4" dy="20">EA</tspan><tspan dy="-7" dx="1.0">)</tspan><tspan class="i" dx="6.45">ξ</tspan><tspan class="s" dy="-13">1/</tspan></text>
<text class="s i" transform="translate(511.13,472.5) scale(1.23,1)">ν</text>
<path d="M514.0,462.3L516.2,459.8L518.4,462.3" stroke="#000" stroke-width="0.9" fill="none"/>
<text class="t" transform="translate(44.7,304.0) rotate(-90)"><tspan class="i">ζ</tspan>(<tspan class="i">C</tspan>, <tspan class="i">t</tspan><tspan class="s" dy="7.4">w</tspan><tspan dy="-7.4">) </tspan><tspan dx="1.1">/ </tspan><tspan class="i" dx="-0.8">ξ</tspan>(<tspan class="i">t</tspan><tspan class="s" dy="7.4">w</tspan><tspan dy="-7.4" dx="1.7">)</tspan></text>
</svg></body></html>
